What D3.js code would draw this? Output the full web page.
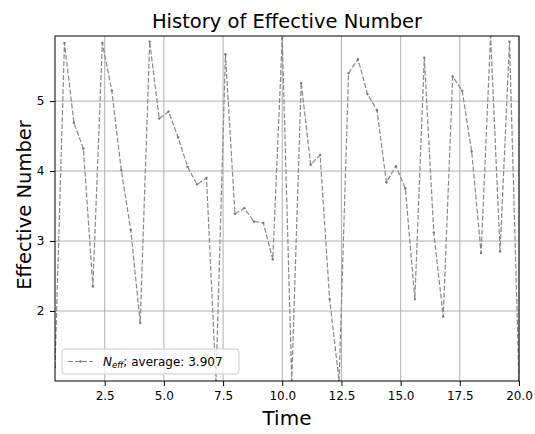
<!DOCTYPE html>
<html lang="en">
<head>
  <meta charset="UTF-8">
  <title>History of Effective Number</title>
  <script src="https://d3js.org/d3.v7.min.js"></script>
  <style>
    body { margin: 0; background: #fff; }
    text { font-family: "DejaVu Sans", sans-serif; }
  </style>
</head>
<body>
<svg width="535" height="434"></svg>
<script>
  // data
  var times = d3.range(1, 51).map(function (k) { return +(k * 0.4).toFixed(1); });
  var neff = [1.2, 5.83, 4.69, 4.32, 2.35, 5.83, 5.15, 4.01, 3.16, 1.83,
              5.85, 4.75, 4.85, 4.48, 4.06, 3.81, 3.90, 1.0, 5.67, 3.39,
              3.47, 3.28, 3.26, 2.74, 5.9, 1.0, 5.26, 4.09, 4.23, 2.17,
              1.0, 5.40, 5.60, 5.10, 4.87, 3.84, 4.07, 3.75, 2.17, 5.62,
              3.12, 1.92, 5.35, 5.15, 4.28, 2.83, 5.93, 2.85, 5.85, 1.0];
  var xTicks = [2.5, 5.0, 7.5, 10.0, 12.5, 15.0, 17.5, 20.0];
  var yTicks = [2, 3, 4, 5];
  var avgLabel = "average: 3.907";

  var svg = d3.select("svg");
  var pL = 55, pR = 519, pT = 36, pB = 381;

  var x = d3.scaleLinear().domain([times[0], times[times.length - 1]]).range([pL, pR]);
  var y = d3.scaleLinear().domain([d3.min(neff), d3.max(neff)]).range([pB, pT]);

  // grid
  var grid = svg.append("g").attr("stroke", "#b0b0b0").attr("stroke-width", 1);
  grid.selectAll(".gx").data(xTicks).enter().append("line")
    .attr("x1", function (d) { return x(d); }).attr("x2", function (d) { return x(d); })
    .attr("y1", pT).attr("y2", pB);
  grid.selectAll(".gy").data(yTicks).enter().append("line")
    .attr("y1", function (d) { return y(d); }).attr("y2", function (d) { return y(d); })
    .attr("x1", pL).attr("x2", pR);

  // line
  var pts = times.map(function (t, i) { return [t, neff[i]]; });
  var line = d3.line().x(function (d) { return x(d[0]); }).y(function (d) { return y(d[1]); });
  svg.append("defs").append("clipPath").attr("id", "clip")
    .append("rect").attr("x", pL).attr("y", pT).attr("width", pR - pL).attr("height", pB - pT);
  var plot = svg.append("g").attr("clip-path", "url(#clip)");
  plot.append("path").datum(pts).attr("d", line)
    .attr("fill", "none").attr("stroke", "#888888").attr("stroke-width", 1.2)
    .attr("stroke-dasharray", "5,2");
  plot.selectAll("circle").data(pts).enter().append("circle")
    .attr("cx", function (d) { return x(d[0]); }).attr("cy", function (d) { return y(d[1]); })
    .attr("r", 1.2).attr("fill", "#777777");

  // axes
  var xAxis = svg.append("g").attr("transform", "translate(0," + pB + ")")
    .call(d3.axisBottom(x).tickValues(xTicks).tickFormat(d3.format(".1f")).tickSizeOuter(0).tickSize(5).tickPadding(5));
  var yAxis = svg.append("g").attr("transform", "translate(" + pL + ",0)")
    .call(d3.axisLeft(y).tickValues(yTicks).tickFormat(d3.format("d")).tickSizeOuter(0).tickSize(5).tickPadding(5.5));
  [xAxis, yAxis].forEach(function (a) {
    a.select(".domain").remove();
    a.selectAll("text").attr("font-size", 12).attr("fill", "#000").style("font-family", "DejaVu Sans");
    a.selectAll("line").attr("stroke", "#000").attr("stroke-width", 1);
  });

  // frame
  svg.append("rect").attr("x", pL).attr("y", pT).attr("width", pR - pL).attr("height", pB - pT)
    .attr("fill", "none").attr("stroke", "#000").attr("stroke-width", 1);

  // labels
  svg.append("text").attr("x", (pL + pR) / 2).attr("y", 28).attr("text-anchor", "middle")
    .attr("font-size", 19.5).text("History of Effective Number");
  svg.append("text").attr("x", (pL + pR) / 2).attr("y", 425).attr("text-anchor", "middle")
    .attr("font-size", 20).text("Time");
  svg.append("text").attr("transform", "translate(31,205) rotate(-90)")
    .attr("text-anchor", "middle").attr("font-size", 19.5).text("Effective Number");

  // legend
  var lg = svg.append("g");
  lg.append("rect").attr("x", 62).attr("y", 349).attr("width", 177).attr("height", 25).attr("rx", 3)
    .attr("fill", "#fff").attr("fill-opacity", 0.8).attr("stroke", "#cccccc").attr("stroke-width", 1);
  lg.append("line").attr("x1", 68).attr("x2", 93).attr("y1", 361.5).attr("y2", 361.5)
    .attr("stroke", "#888888").attr("stroke-width", 1.2).attr("stroke-dasharray", "5,2");
  lg.append("circle").attr("cx", 80.5).attr("cy", 361.5).attr("r", 1.2).attr("fill", "#777777");
  var lt = lg.append("text").attr("x", 103).attr("y", 366).attr("font-size", 12);
  lt.append("tspan").attr("font-style", "italic").text("N");
  lt.append("tspan").attr("font-style", "italic").attr("font-size", 8.5).attr("dy", 2).text("eff");
  lt.append("tspan").attr("dy", -2).text("; " + avgLabel);
</script>
</body>
</html>
